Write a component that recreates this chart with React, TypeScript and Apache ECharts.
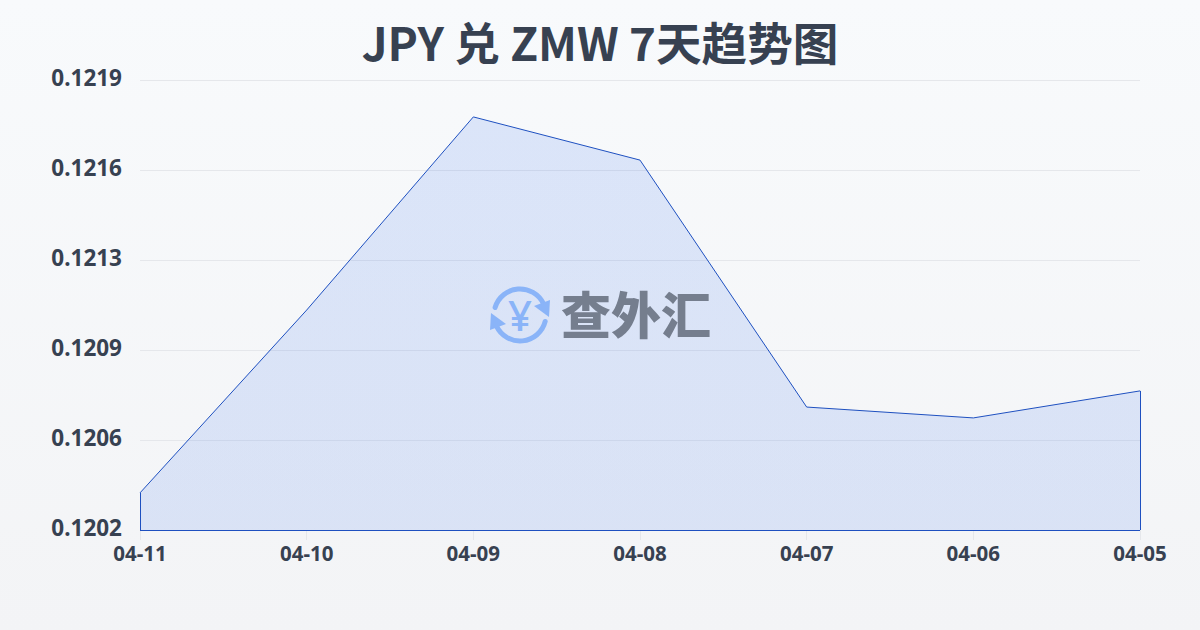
import React, { useEffect, useRef } from "react";
import * as echarts from "echarts";

const titleText = "JPY 兑 ZMW 7天趋势图";
const watermarkText = "查外汇";
const categories = ["04-11", "04-10", "04-09", "04-08", "04-07", "04-06", "04-05"];
const rates = [0.12038, 0.12107, 0.121799, 0.121636, 0.120704, 0.120663, 0.120765];
const axisStep = 0.12024 / 354;
const axisMin = 354 * axisStep;
const axisMax = 359 * axisStep;

export default function App() {
  const ref = useRef<HTMLDivElement>(null);
  useEffect(() => {
    document.body.style.margin = "0";
    const chart = echarts.init(ref.current!, null, { renderer: "svg" });
    const blue = "#8ab4f8";
    const cx = 520;
    const cy = 315;
    chart.setOption({
      animation: false,
      backgroundColor: {
        type: "linear", x: 0, y: 0, x2: 0, y2: 1,
        colorStops: [{ offset: 0, color: "#f8fafc" }, { offset: 1, color: "#f3f4f6" }],
      },
      title: {
        text: titleText, left: "center", top: 13,
        textStyle: { fontFamily: "'Noto Sans CJK SC'", fontSize: 45.6, fontWeight: 700, color: "#374151" },
      },
      grid: { left: 140, right: 60, top: 80, bottom: 100 },
      xAxis: {
        type: "category", boundaryGap: false, data: categories,
        axisLine: { show: false },
        axisTick: { show: true, length: 10, lineStyle: { color: "#e5e7eb" } },
        axisLabel: { color: "#374151", fontFamily: "'Noto Sans'", fontSize: 20.5, fontWeight: 700, margin: 12 },
      },
      yAxis: {
        type: "value", min: axisMin, max: axisMax, interval: axisStep,
        axisLine: { show: false }, axisTick: { show: false },
        splitLine: { lineStyle: { color: "#e5e7eb", width: 1 } },
        axisLabel: {
          color: "#374151", fontFamily: "'Noto Sans'", fontSize: 22.5, fontWeight: 700, margin: 18,
          verticalAlign: "bottom", lineHeight: 5,
          formatter: (v: number) => v.toFixed(4),
        },
      },
      series: [{
        type: "line", data: rates, symbol: "none", smooth: false,
        lineStyle: { color: "#1e50c0", width: 1 },
        areaStyle: {
          color: {
            type: "linear", x: 0, y: 0, x2: 0, y2: 1,
            colorStops: [{ offset: 0, color: "rgba(37,99,235,0.19)" }, { offset: 1, color: "rgba(37,99,235,0.18)" }],
          },
        },
        markLine: {
          silent: true, symbol: "none", label: { show: false },
          lineStyle: { color: "#1e50c0", width: 1, type: "solid" },
          data: [
            [{ coord: [categories[0], axisMin] }, { coord: [categories[0], rates[0]] }],
            [{ coord: [categories[0], axisMin] }, { coord: [categories[6], axisMin] }],
            [{ coord: [categories[6], axisMin] }, { coord: [categories[6], rates[6]] }],
          ],
        },
      }],
      graphic: [
        { type: "arc", z: 100, shape: { cx, cy, r: 26, startAngle: -2.85, endAngle: -0.45 }, style: { stroke: blue, lineWidth: 5, fill: "none", lineCap: "round" } },
        { type: "arc", z: 100, shape: { cx, cy, r: 26, startAngle: 0.25, endAngle: 2.7 }, style: { stroke: blue, lineWidth: 5, fill: "none", lineCap: "round" } },
        { type: "polygon", z: 100, shape: { points: [[550, 300], [549, 317], [534, 306]] }, style: { fill: blue } },
        { type: "polygon", z: 100, shape: { points: [[490, 330], [491, 313], [506, 324]] }, style: { fill: blue } },
        { type: "text", z: 100, style: { text: "¥", x: cx, y: cy - 1, align: "center", verticalAlign: "middle", fill: blue, font: "500 42px 'Noto Sans'" } },
        { type: "text", z: 100, style: { text: watermarkText, x: 636, y: 312, align: "center", verticalAlign: "middle", fill: "#757e8e", font: "900 50px 'Noto Sans CJK SC'" } },
      ],
    });
    return () => chart.dispose();
  }, []);
  return <div ref={ref} style={{ width: 1200, height: 630 }} />;
}
